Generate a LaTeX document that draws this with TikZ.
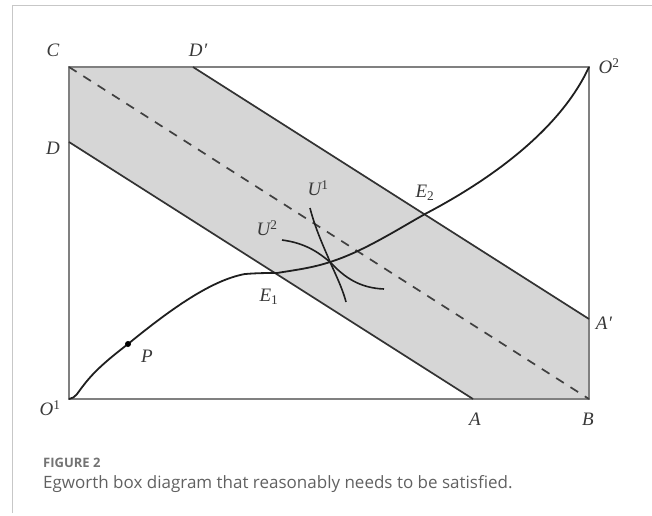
\documentclass[tikz,border=0pt]{standalone}
\usepackage{fontspec}
\setmainfont{Liberation Serif}
\newfontfamily\capfont{Open Sans}
\begin{document}
\begin{tikzpicture}[x=1pt,y=-1pt,
  lbl/.style={font=\fontsize{19}{19}\selectfont\itshape, text=black!78, inner sep=0pt},
  boxline/.style={draw=black!50, line width=2pt},
  slant/.style={draw=black!80, line width=1.7pt},
  curveline/.style={draw=black!88, line width=1.8pt},
  dashline/.style={draw=black!75, line width=1.7pt, dash pattern=on 9pt off 8pt},
  shade/.style={fill=black!16},
  frame/.style={draw=black!22, line width=1pt}]
\useasboundingbox (0,0) rectangle (652,515);
\draw[frame] (12,513) -- (12,5) -- (652,5);
% points
\coordinate (O1) at (69,399);
\coordinate (C) at (69,67);
\coordinate (O2) at (589,67);
\coordinate (B) at (589,399);
\coordinate (D) at (69,142);
\coordinate (Dp) at (193,67);
\coordinate (A) at (473,399);
\coordinate (Ap) at (589,319);
\coordinate (P) at (128,344);
\coordinate (K) at (245,274);
\coordinate (E1) at (277,273);
\coordinate (E2) at (425,214);
\coordinate (X) at (330,262);
% shaded band
\fill[shade] (D) -- (C) -- (Dp) -- (Ap) -- (B) -- (A) -- cycle;
% box
\draw[boxline] (O1) -- (C) -- (O2) -- (B) -- cycle;
% budget lines
\draw[slant] (D) -- (A);
\draw[slant] (Dp) -- (Ap);
\draw[dashline] (C) -- (B);
% contract curve
\draw[curveline] (O1) .. controls (76,398) and (78,392) .. (83,386)
  .. controls (95,370) and (110,358) .. (P)
  .. controls (172,308) and (212,280) .. (K)
  .. controls (258,273) and (266,273) .. (E1)
  .. controls (295,270) and (312,268) .. (X)
  .. controls (362,252) and (395,231) .. (E2)
  .. controls (490,180) and (560,130) .. (O2);
% indifference curves
\draw[curveline, line width=1.6pt] (310,208) .. controls (316,232) and (328,256) .. (X) .. controls (336,275) and (343,290) .. (346,302);
\draw[curveline, line width=1.6pt] (282,240) .. controls (305,243) and (318,252) .. (X) .. controls (345,278) and (360,288) .. (384,289);
\fill[black] (P) circle (3pt);
% labels
\node[lbl] (lC) at (53,50) {C};
\node[lbl] (lDp) at (198,50) {D\kern0.5pt′};
\node[lbl] (lO2) at (609,66) {O\textsuperscript{\upshape 2}};
\node[lbl] (lD) at (53,148) {D};
\node[lbl] (lAp) at (604,323) {A\kern0.5pt′};
\node[lbl] (lA) at (475,419) {A};
\node[lbl] (lB) at (588,419) {B};
\node[lbl] (lO1) at (50,408) {O\textsuperscript{\upshape 1}};
\node[lbl] (lP) at (147,356) {P};
\node[lbl] (lE1) at (269,297) {E\textsubscript{\upshape 1}};
\node[lbl] (lE2) at (425,193) {E\textsubscript{\upshape 2}};
\node[lbl] (lU1) at (318,188) {U\textsuperscript{\upshape 1}};
\node[lbl] (lU2) at (267,228) {U\textsuperscript{\upshape 2}};
% caption
\node[anchor=base west, inner sep=0pt, font=\capfont\bfseries\fontsize{13}{13}\selectfont, text=black!55] (fig) at (43,467) {FIGURE 2};
\node[anchor=base west, inner sep=0pt, font=\capfont\fontsize{17}{17}\selectfont, text=black!62] (cap) at (43,488) {Egworth box diagram that reasonably needs to be satisfied.};
\end{tikzpicture}
\end{document}
